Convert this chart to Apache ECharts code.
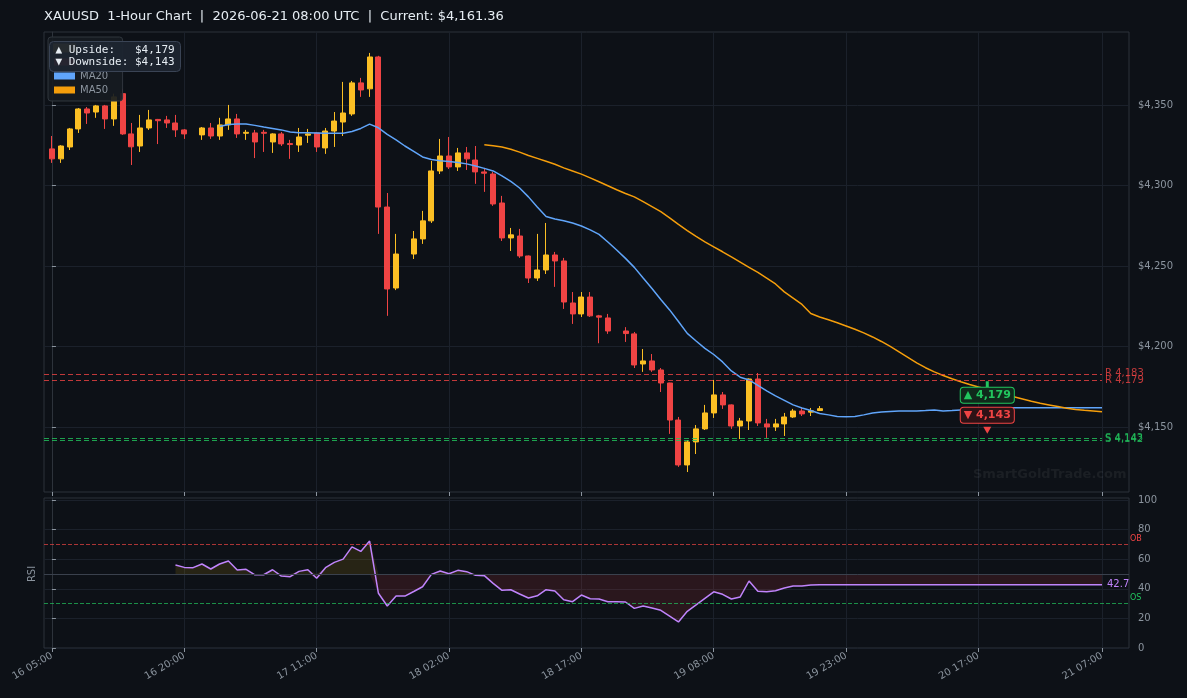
<!DOCTYPE html>
<html>
<head>
<meta charset="utf-8">
<title>XAUUSD 1-Hour Chart</title>
<script src="https://cdn.jsdelivr.net/npm/echarts@6/dist/echarts.min.js"></script>
<style>
  html, body { margin: 0; padding: 0; background: #0d1117; }
  #chart { width: 1187px; height: 698px; }
</style>
</head>
<body>
<div id="chart"></div>
<script>
// x positions are bar indexes (hourly bars), ticks only at these indexes
var tickIdx = [0, 15, 30, 45, 60, 75, 90, 105, 119];
var tickLabels = ['16 05:00', '16 20:00', '17 11:00', '18 02:00', '18 17:00', '19 08:00', '19 23:00', '20 17:00', '21 07:00'];
var priceTicks = [4150, 4200, 4250, 4300, 4350];
var rsiTicks = [0, 20, 40, 60, 80, 100];

var candleIdx = [
  0, 1, 2, 3, 4, 5, 6, 7, 8, 9, 10, 11, 12, 13, 14, 15,
  17, 18, 19, 20, 21, 22, 23, 24, 25, 26, 27, 28, 29, 30, 31, 32, 33, 34, 35, 36, 37, 38, 39,
  41, 42, 43, 44, 45, 46, 47, 48, 49, 50, 51, 52, 53, 54, 55, 56, 57, 58, 59, 60, 61, 62, 63,
  65, 66, 67, 68, 69, 70, 71, 72, 73, 74, 75, 76, 77, 78, 79, 80, 81, 82, 83, 84, 85, 86, 87
];
var openPx = [
  4322.7, 4316.5, 4323.9, 4335.1, 4347.5, 4345.6, 4349.4, 4341.3, 4357.0, 4332.0, 4324.5, 4335.7, 4341.0, 4340.7, 4338.8, 4334.5,
  4331.4, 4335.7, 4330.7, 4337.6, 4341.3, 4332.4, 4332.6, 4333.0, 4327.0, 4332.0, 4326.0, 4325.1, 4331.2, 4332.6, 4323.3, 4333.8, 4339.4, 4344.4, 4363.7, 4360.0, 4379.8, 4286.6, 4236.3,
  4257.4, 4266.8, 4278.0, 4309.0, 4318.3, 4311.5, 4320.2, 4315.8, 4308.4, 4307.1, 4289.1, 4267.4, 4268.6, 4256.2, 4242.5, 4247.5, 4256.8, 4253.1, 4227.0, 4220.2, 4230.7, 4219.0, 4217.7,
  4209.6, 4207.8, 4189.1, 4191.0, 4185.4, 4177.3, 4154.3, 4126.4, 4140.7, 4148.8, 4158.7, 4169.9, 4163.7, 4150.6, 4153.7, 4179.8, 4151.9, 4150.0, 4151.9, 4156.2, 4159.9, 4159.2, 4160.2
];
var closePx = [
  4316.5, 4324.5, 4335.1, 4347.5, 4345.0, 4349.4, 4341.3, 4355.0, 4332.0, 4324.0, 4335.7, 4340.7, 4340.2, 4338.8, 4334.5, 4332.0,
  4335.7, 4330.7, 4337.6, 4341.3, 4332.0, 4333.0, 4327.0, 4332.4, 4332.0, 4325.8, 4325.4, 4330.1, 4332.0, 4323.9, 4333.8, 4340.0, 4345.0, 4363.7, 4359.3, 4379.8, 4286.6, 4235.7, 4257.4,
  4266.8, 4278.0, 4309.0, 4318.3, 4311.5, 4320.2, 4316.5, 4308.4, 4307.6, 4288.5, 4267.4, 4269.3, 4256.2, 4242.5, 4247.5, 4256.8, 4253.1, 4227.6, 4220.2, 4230.7, 4219.0, 4218.2, 4209.6,
  4208.0, 4188.5, 4191.0, 4185.4, 4177.3, 4154.3, 4126.4, 4140.7, 4148.8, 4158.7, 4169.9, 4163.7, 4150.6, 4153.7, 4179.8, 4152.5, 4150.0, 4151.9, 4156.2, 4159.9, 4158.1, 4160.0, 4161.36
];
var lowPx = [
  4314.0, 4314.0, 4322.0, 4332.6, 4338.2, 4342.0, 4335.1, 4337.0, 4331.4, 4312.7, 4320.8, 4334.5, 4325.7, 4335.7, 4330.1, 4328.9,
  4328.3, 4328.9, 4328.3, 4334.5, 4329.5, 4328.3, 4317.0, 4320.8, 4320.2, 4324.5, 4316.5, 4320.8, 4326.4, 4320.8, 4319.6, 4323.9, 4330.7, 4343.2, 4355.0, 4355.0, 4269.9, 4219.0, 4235.0,
  4254.3, 4263.7, 4276.7, 4307.1, 4310.2, 4309.0, 4309.6, 4301.0, 4296.0, 4287.3, 4265.5, 4259.3, 4255.0, 4239.4, 4240.7, 4245.0, 4237.0, 4223.3, 4214.0, 4218.3, 4218.3, 4202.0, 4207.8,
  4202.8, 4186.6, 4184.2, 4184.2, 4171.7, 4145.7, 4125.2, 4122.0, 4133.2, 4148.1, 4155.6, 4161.2, 4148.8, 4142.5, 4148.1, 4150.6, 4143.2, 4147.5, 4144.4, 4155.6, 4156.8, 4156.8, 4160.0
];
var highPx = [
  4330.7, 4325.0, 4335.7, 4348.1, 4348.7, 4350.0, 4350.0, 4357.0, 4360.0, 4338.8, 4343.8, 4346.9, 4341.3, 4343.2, 4343.8, 4335.0,
  4336.3, 4338.8, 4342.0, 4350.0, 4344.4, 4334.5, 4334.5, 4334.5, 4332.4, 4333.2, 4328.3, 4335.7, 4335.1, 4333.0, 4335.7, 4345.6, 4364.3, 4364.9, 4366.8, 4382.3, 4380.5, 4295.3, 4269.9,
  4271.7, 4284.2, 4315.2, 4328.9, 4330.1, 4323.3, 4323.9, 4324.5, 4310.9, 4308.4, 4293.5, 4273.6, 4273.0, 4256.5, 4269.9, 4276.7, 4258.7, 4255.0, 4233.8, 4233.8, 4233.8, 4219.6, 4220.2,
  4212.0, 4209.0, 4198.4, 4195.3, 4186.6, 4177.5, 4156.2, 4141.9, 4151.2, 4163.7, 4179.2, 4171.7, 4164.0, 4155.6, 4180.2, 4183.5, 4155.0, 4155.0, 4158.7, 4161.2, 4161.8, 4161.8, 4163.0
];

// MA20 starts at bar 19, MA50 at bar 49, RSI at bar 14
var ma20Start = 19;
var ma20 = [
  4336.6, 4337.9, 4338.2, 4338.2, 4337.3, 4336.3, 4335.4, 4334.5, 4333.2, 4332.8,
  4332.8, 4332.6, 4332.4, 4332.4, 4332.4, 4333.5, 4335.4, 4338.1, 4335.8, 4331.7,
  4328.3, 4324.5, 4321.1, 4317.7, 4316.1, 4315.4, 4314.9, 4314.3, 4313.4, 4312.1,
  4310.6, 4309.0, 4305.9, 4302.5, 4298.4, 4292.9, 4286.6, 4280.7, 4279.2, 4278.1,
  4276.7, 4274.8, 4272.4, 4269.6, 4264.9, 4259.9, 4254.7, 4249.1, 4242.5, 4236.0,
  4229.2, 4222.7, 4215.5, 4208.1, 4203.4, 4198.8, 4195.0, 4190.4, 4184.8, 4180.9,
  4179.2, 4175.8, 4172.4, 4169.3, 4166.5, 4163.7, 4161.8, 4160.2, 4158.4, 4157.5,
  4156.5, 4156.4, 4156.5, 4157.5, 4158.7, 4159.3, 4159.6, 4159.9, 4159.9, 4159.9,
  4160.2, 4160.6, 4159.9, 4160.2, 4160.6, 4160.9, 4161.2, 4161.6, 4161.9, 4161.9,
  4161.9, 4161.9, 4161.9, 4161.9, 4161.9, 4161.9, 4161.9, 4161.9, 4161.9, 4161.9, 4161.9
];
var ma50Start = 49;
var ma50 = [
  4325.2, 4324.7, 4323.9, 4322.5, 4320.7, 4318.6, 4316.8, 4315.0, 4313.2, 4310.9,
  4309.0, 4307.0, 4304.7, 4302.3, 4299.8, 4297.3, 4295.0, 4292.9, 4289.9, 4286.8,
  4283.7, 4279.9, 4275.8, 4272.0, 4268.3, 4265.0, 4261.9, 4258.8, 4255.6, 4252.4,
  4249.1, 4246.0, 4242.4, 4238.8, 4233.9, 4230.0, 4226.1, 4220.5, 4218.3, 4216.6,
  4214.7, 4212.7, 4210.7, 4208.4, 4205.9, 4203.1, 4200.0, 4196.6, 4193.2, 4189.8,
  4186.8, 4184.2, 4182.0, 4179.9, 4178.1, 4176.4, 4174.8, 4173.4, 4171.9, 4170.2,
  4168.8, 4167.4, 4166.0, 4164.7, 4163.7, 4162.7, 4161.6, 4160.9, 4160.3, 4159.9,
  4159.5
];
var rsiStart = 14;
var rsi = [
  56.1, 54.5, 54.3, 56.8, 53.4, 56.8, 58.8, 52.7, 53.2, 49.5,
  49.5, 52.9, 48.6, 48.2, 51.8, 52.9, 47.1, 54.3, 57.9, 60.1,
  68.4, 65.3, 72.3, 37.0, 28.4, 35.1, 35.1, 38.2, 41.4, 49.8,
  52.0, 50.2, 52.5, 51.6, 49.1, 48.9, 43.7, 39.0, 39.4, 36.5,
  33.8, 35.3, 39.4, 38.5, 32.6, 31.3, 35.8, 33.3, 33.1, 31.3,
  31.3, 31.1, 26.8, 28.4, 27.0, 25.5, 21.6, 17.6, 24.8, 29.1,
  33.6, 38.0, 36.3, 33.1, 34.5, 45.3, 38.3, 38.0, 38.7, 40.5,
  41.9, 41.9, 42.6, 42.7, 42.7, 42.7, 42.7, 42.7, 42.7, 42.7,
  42.7, 42.7, 42.7, 42.7, 42.7, 42.7, 42.7, 42.7, 42.7, 42.7,
  42.7, 42.7, 42.7, 42.7, 42.7, 42.7, 42.7, 42.7, 42.7, 42.7,
  42.7, 42.7, 42.7, 42.7, 42.7, 42.7
];

var resistance = [4183, 4179];
var support = [4143, 4142];
var upside = 4179, downside = 4143, targetIdx = 106;
var rsiMid = 50;

var xMin = -0.9, xMax = 122.06, lastIdx = 119;
var font = 'DejaVu Sans';
var gridColor = '#1b212b';
var textGray = '#8b949e';

function pairs(start, arr) {
  return arr.map(function (v, i) { return [start + i, v]; });
}
// value first, bar index second: the stack then runs on the value dimension
function flipped(start, arr) {
  return arr.map(function (v, i) { return [v, start + i]; });
}
function fmt(v) {
  return v.toLocaleString('en-US');
}

var candles = candleIdx.map(function (x, i) {
  return [x, openPx[i], closePx[i], lowPx[i], highPx[i]];
});
var rsiData = pairs(rsiStart, rsi);
// shaded band between RSI and the 50 line, drawn as two stacked areas
var rsiLo = flipped(rsiStart, rsi.map(function (v) { return Math.min(v, rsiMid); }));
var rsiLoFill = flipped(rsiStart, rsi.map(function (v) { return rsiMid - Math.min(v, rsiMid); }));
var rsiHiBase = flipped(rsiStart, rsi.map(function () { return rsiMid; }));
var rsiHiFill = flipped(rsiStart, rsi.map(function (v) { return Math.max(v, rsiMid) - rsiMid; }));

function level(y, text, color) {
  return [
    { coord: [xMin, y], lineStyle: { color: color, type: [5, 3], width: 1, opacity: 0.8 },
      label: { formatter: text, color: color } },
    { coord: [lastIdx, y] }
  ];
}
var levels = [];
resistance.forEach(function (v) { levels.push(level(v, 'R ' + fmt(v), '#ef4444')); });
support.forEach(function (v) { levels.push(level(v, 'S ' + fmt(v), '#22c55e')); });

function xAxisOf(grid, withLabels) {
  return {
    type: 'value', gridIndex: grid, min: xMin, max: xMax,
    axisLine: { show: false },
    axisTick: { show: true, length: 4, customValues: tickIdx, lineStyle: { color: textGray } },
    axisLabel: {
      show: withLabels, customValues: tickIdx, rotate: 30, color: textGray,
      fontSize: 10, fontFamily: font, margin: 7,
      formatter: function (v) { return tickLabels[tickIdx.indexOf(v)]; }
    },
    splitLine: { show: true, lineStyle: { color: gridColor } }
  };
}

function band(name, data, stack, color) {
  return {
    name: name, type: 'line', xAxisIndex: 1, yAxisIndex: 1, data: data, stack: stack,
    encode: { x: 1, y: 0 },
    showSymbol: false, silent: true, lineStyle: { opacity: 0 },
    areaStyle: color ? { color: color, opacity: 1 } : undefined
  };
}

var chart = echarts.init(document.getElementById('chart'));
var option = {
  backgroundColor: '#0d1117',
  animation: false,
  title: {
    text: 'XAUUSD  1-Hour Chart  |  2026-06-21 08:00 UTC  |  Current: $4,161.36',
    left: 44, top: 10, padding: 0,
    textStyle: { color: '#e6edf3', fontSize: 13, fontWeight: 'normal', fontFamily: font }
  },
  legend: {
    orient: 'vertical', left: 48, top: 37, padding: [5, 5],
    itemWidth: 21, itemHeight: 7, itemGap: 2, icon: 'rect',
    backgroundColor: 'rgba(22,27,34,0.92)', borderColor: '#30363d', borderWidth: 1, borderRadius: 3,
    textStyle: { color: textGray, fontSize: 10, fontFamily: font, lineHeight: 12 },
    data: [
      { name: 'Bullish', itemStyle: { color: '#fbbf24' } },
      { name: 'Bearish', itemStyle: { color: '#ef4444' } },
      { name: 'MA20', itemStyle: { color: '#60a5fa' } },
      { name: 'MA50', itemStyle: { color: '#f59e0b' } }
    ]
  },
  grid: [
    { left: 44, right: 58, top: 32, bottom: 206, show: true, backgroundColor: '#0d1117', borderColor: '#2d333b' },
    { left: 44, right: 58, top: 498, bottom: 50, show: true, backgroundColor: '#0d1117', borderColor: '#2d333b' }
  ],
  xAxis: [xAxisOf(0, false), xAxisOf(1, true)],
  yAxis: [
    {
      type: 'value', gridIndex: 0, position: 'right', min: 4109.6, max: 4395.3,
      axisLine: { show: true, lineStyle: { color: '#2d333b' } },
      axisTick: { show: true, length: 4, customValues: priceTicks, lineStyle: { color: textGray } },
      axisLabel: { customValues: priceTicks, color: textGray, fontSize: 10, fontFamily: font, margin: 9,
        formatter: function (v) { return '$' + fmt(v); } },
      splitLine: { lineStyle: { color: gridColor } }
    },
    {
      type: 'value', gridIndex: 1, position: 'right', min: 0, max: 101.4,
      axisLine: { show: true, lineStyle: { color: '#2d333b' } },
      axisTick: { show: true, length: 4, customValues: rsiTicks, lineStyle: { color: textGray } },
      axisLabel: { customValues: rsiTicks, color: textGray, fontSize: 10, fontFamily: font, margin: 9 },
      splitLine: { lineStyle: { color: gridColor } }
    }
  ],
  series: [
    {
      name: 'Bullish', type: 'candlestick', xAxisIndex: 0, yAxisIndex: 0,
      data: candles, barWidth: 5.5,
      itemStyle: { color: '#fbbf24', color0: '#ef4444', borderColor: '#fbbf24', borderColor0: '#ef4444', borderWidth: 1 }
    },
    { name: 'Bearish', type: 'line', xAxisIndex: 0, yAxisIndex: 0, data: [], color: '#ef4444' },
    {
      name: 'MA20', type: 'line', xAxisIndex: 0, yAxisIndex: 0, data: pairs(ma20Start, ma20),
      showSymbol: false, color: '#60a5fa', lineStyle: { width: 1.5 }
    },
    {
      name: 'MA50', type: 'line', xAxisIndex: 0, yAxisIndex: 0, data: pairs(ma50Start, ma50),
      showSymbol: false, color: '#f59e0b', lineStyle: { width: 1.5 },
      markLine: {
        silent: true, symbol: ['none', 'none'],
        label: { position: 'end', distance: 3, fontSize: 10, fontFamily: font },
        data: levels
      },
      markPoint: {
        silent: true,
        data: [
          { coord: [targetIdx, upside], symbol: 'rect', symbolSize: [3, 6], symbolOffset: [0, 4],
            itemStyle: { color: '#22c55e' }, label: { show: false } },
          { coord: [targetIdx, upside], symbol: 'circle', symbolSize: 0, itemStyle: { color: 'rgba(0,0,0,0)' },
            label: { show: true, position: 'inside', offset: [0, 15], formatter: '▲ ' + fmt(upside),
              color: '#22c55e', fontSize: 11, fontWeight: 'bold', fontFamily: font,
              backgroundColor: '#10291b', borderColor: '#22c55e', borderWidth: 1, borderRadius: 3, padding: [2, 3] } },
          { coord: [targetIdx, downside], symbol: 'circle', symbolSize: 0, itemStyle: { color: 'rgba(0,0,0,0)' },
            label: { show: true, position: 'inside', offset: [0, -23], formatter: '▼ ' + fmt(downside),
              color: '#ef4444', fontSize: 11, fontWeight: 'bold', fontFamily: font,
              backgroundColor: '#2e1216', borderColor: '#ef4444', borderWidth: 1, borderRadius: 3, padding: [2, 3] } },
          { coord: [targetIdx, downside], symbol: 'triangle', symbolRotate: 180, symbolSize: [8, 7], symbolOffset: [0, -8],
            itemStyle: { color: '#ef4444' }, label: { show: false } }
        ]
      }
    },
    band('rsiLo', rsiLo, 'lo'),
    band('rsiLoFill', rsiLoFill, 'lo', 'rgba(239,68,68,0.13)'),
    band('rsiHiBase', rsiHiBase, 'hi'),
    band('rsiHiFill', rsiHiFill, 'hi', 'rgba(234,179,8,0.12)'),
    {
      name: 'RSI', type: 'line', xAxisIndex: 1, yAxisIndex: 1, data: rsiData,
      showSymbol: false, color: '#c084fc', lineStyle: { width: 1.5 },
      endLabel: { show: true, formatter: rsi[rsi.length - 1].toFixed(1), color: '#c084fc', fontSize: 10, fontFamily: font, distance: 5 },
      markLine: {
        silent: true, symbol: ['none', 'none'],
        label: { position: 'end', distance: 1, fontSize: 8, fontFamily: font, offset: [0, -6] },
        data: [
          { yAxis: 70, lineStyle: { color: 'rgba(239,68,68,0.7)', type: [4, 2], width: 1 }, label: { formatter: 'OB', color: '#ef4444' } },
          { yAxis: 30, lineStyle: { color: 'rgba(34,197,94,0.7)', type: [4, 2], width: 1 }, label: { formatter: 'OS', color: '#22c55e' } },
          { yAxis: 50, lineStyle: { color: '#3a414d', type: 'solid', width: 1 }, label: { show: false } }
        ]
      }
    }
  ],
  graphic: [
    {
      type: 'text', left: 973, top: 468, z: 1, silent: true,
      style: { text: 'SmartGoldTrade.com', fill: 'rgba(255,255,255,0.06)', font: 'bold 13px DejaVu Sans' }
    },
    {
      type: 'text', x: 32, y: 574, rotation: Math.PI / 2, silent: true,
      style: { text: 'RSI', fill: textGray, font: '10px DejaVu Sans', align: 'center', verticalAlign: 'middle' }
    },
    {
      type: 'group', left: 49, top: 41, zlevel: 1, silent: true,
      children: [
        { type: 'rect', zlevel: 1, z: 100, shape: { x: 0, y: 0, width: 131, height: 30, r: 4 },
          style: { fill: 'rgba(29,36,48,0.96)', stroke: '#3a4455', lineWidth: 1 } },
        { type: 'text', zlevel: 1, z: 101, x: 6, y: 3,
          style: { text: '▲ Upside:   $' + fmt(upside) + '\n▼ Downside: $' + fmt(downside),
            fill: '#e6edf3', font: '11px DejaVu Sans Mono', lineHeight: 12 } }
      ]
    }
  ]
};
chart.setOption(option);
</script>
</body>
</html>
